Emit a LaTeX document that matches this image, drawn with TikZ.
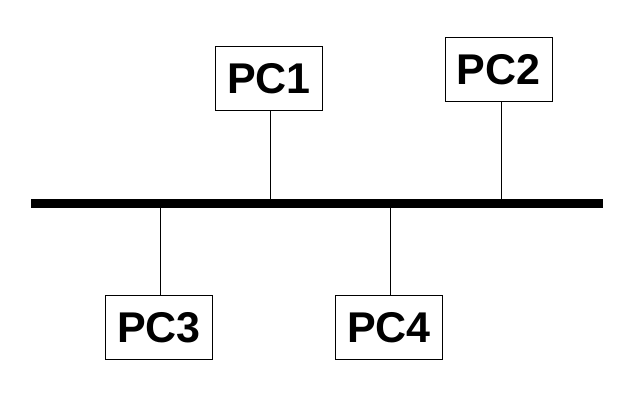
\documentclass[tikz,border=0pt]{standalone}
\usepackage{fontspec}
\setmainfont{Liberation Sans}
\begin{document}
\begin{tikzpicture}[x=1pt,y=-1pt,line width=1pt,
  pcbox/.style={draw,fill=white,minimum width=107.4pt,minimum height=64pt,
    inner sep=0pt,font=\fontsize{43}{43}\selectfont\bfseries}]
  \useasboundingbox (0,0) rectangle (622,413);
  % thick bus line
  \draw[line width=8.6pt] (31,203.3) -- (603,203.3);
  % taps on the bus (top and bottom edge)
  \coordinate (t1) at (270.3,199);
  \coordinate (t2) at (501.7,199);
  \coordinate (t3) at (160.3,207.6);
  \coordinate (t4) at (390.3,207.6);
  % stations above the bus
  \node[pcbox] (pc1) at (269,78.3) {PC1};
  \node[pcbox] (pc2) at (498.8,69.3) {PC2};
  % stations below the bus
  \node[pcbox] (pc3) at (159,327.3) {PC3};
  \node[pcbox] (pc4) at (389,327.3) {PC4};
  % drop cables
  \draw (pc1.south -| t1) -- (t1);
  \draw (pc2.south -| t2) -- (t2);
  \draw (pc3.north -| t3) -- (t3);
  \draw (pc4.north -| t4) -- (t4);
\end{tikzpicture}
\end{document}
